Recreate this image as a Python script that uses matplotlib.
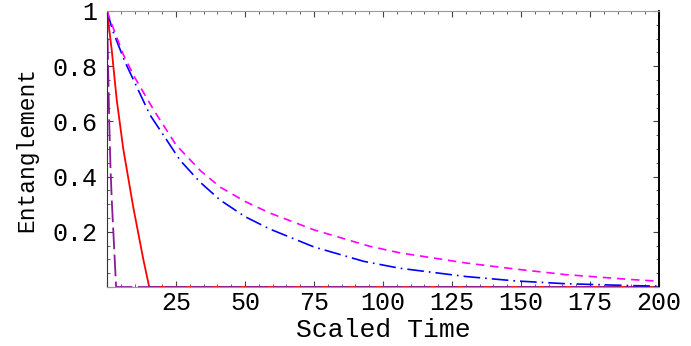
import matplotlib.pyplot as plt
from matplotlib.ticker import MultipleLocator, FuncFormatter

# values
t_magenta = [0, 2, 6, 10, 17, 25, 34, 41, 50, 59, 75, 95, 106, 130, 148, 166, 190, 200]
e_magenta = [1.0, 0.945, 0.84, 0.76, 0.64, 0.515, 0.42, 0.362, 0.31, 0.268, 0.207,
             0.148, 0.124, 0.087, 0.065, 0.045, 0.027, 0.021]

t_blue = [0, 2.2, 6.5, 15.6, 21.6, 26.4, 33.7, 41, 50, 59, 75, 93, 106, 130, 148,
          166, 190, 200]
e_blue = [1.0, 0.925, 0.816, 0.623, 0.533, 0.46, 0.38, 0.315, 0.255, 0.21, 0.145,
          0.093, 0.068, 0.038, 0.022, 0.012, 0.005, 0.003]

t_red = [0, 1.7, 3.5, 5.9, 9.5, 13.2, 15.3, 200]
e_red = [1.0, 0.86, 0.68, 0.50, 0.29, 0.098, 0.0, 0.0]

t_purple = [0, 0.3, 0.8, 1.3, 1.8, 2.4, 3.3, 200]
e_purple = [1.0, 0.85, 0.6, 0.42, 0.3, 0.18, 0.0, 0.0]

plt.rcParams['font.family'] = ['Liberation Mono', 'DejaVu Sans Mono']

fig = plt.figure(figsize=(6.91, 3.46), dpi=100)
ax = fig.add_axes([107 / 691, 1 - 287 / 346, 552 / 691, 276 / 346])

ax.plot(t_red, e_red, color='#ff0000', lw=1.3)
ax.plot(t_purple, e_purple, color='#8a1a96', lw=1.3, linestyle=(0, (12, 3)))
ax.plot(t_blue, e_blue, color='#0000ff', lw=1.2, linestyle=(0, (10, 3, 1, 3)))
ax.plot(t_magenta, e_magenta, color='#ff00ff', lw=1.2, linestyle=(0, (5, 3.5)))

ax.set_xlim(0, 200)
ax.set_ylim(0, 1)

ax.xaxis.set_major_locator(MultipleLocator(25))
ax.xaxis.set_minor_locator(MultipleLocator(5))
ax.yaxis.set_major_locator(MultipleLocator(0.2))
ax.yaxis.set_minor_locator(MultipleLocator(0.05))


def xfmt(v, pos):
    return '' if abs(v) < 1e-9 else '%d' % v


def yfmt(v, pos):
    if abs(v) < 1e-9:
        return ''
    if abs(v - 1) < 1e-9:
        return '1'
    return '%.1f' % v


ax.xaxis.set_major_formatter(FuncFormatter(xfmt))
ax.yaxis.set_major_formatter(FuncFormatter(yfmt))

ax.tick_params(which='both', direction='in', top=True, right=True,
               color='#444444', labelsize=18)
ax.tick_params(which='major', length=4, width=0.8)
ax.tick_params(which='minor', length=2, width=0.6)
ax.tick_params(axis='x', pad=3)
ax.tick_params(axis='y', pad=7)

ax.spines['top'].set_color('#999999')
ax.spines['bottom'].set_color('#999999')
ax.spines['left'].set_color('#333333')
ax.spines['right'].set_color('black')
ax.spines['right'].set_linewidth(1.4)

ax.set_xlabel('Scaled Time', fontsize=19, labelpad=2)
ax.set_ylabel('Entanglement', fontsize=16.5, labelpad=10)

fig.savefig('out.png', dpi=100)
